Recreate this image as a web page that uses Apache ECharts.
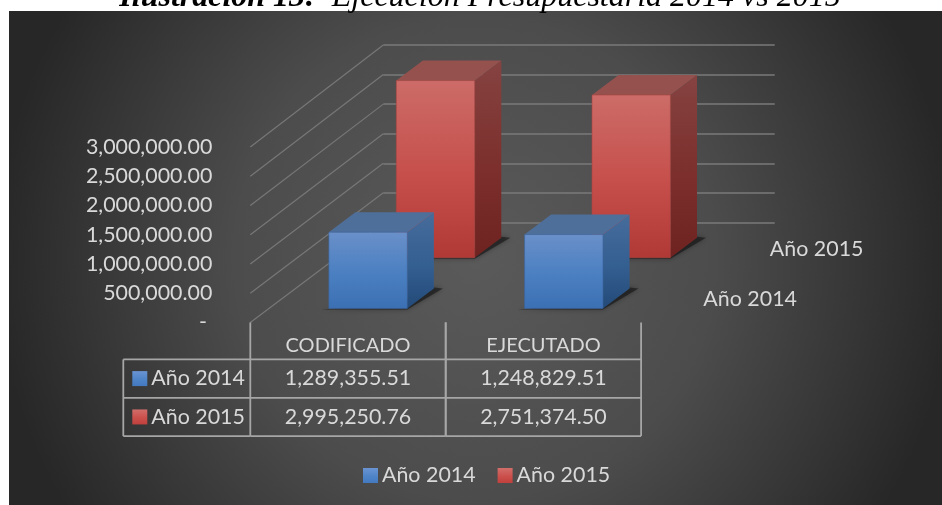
<!DOCTYPE html>
<html><head><meta charset="utf-8">
<style>html,body{margin:0;padding:0;background:#fff}#c{width:942px;height:505px}</style>
<script src="https://cdn.jsdelivr.net/npm/echarts@6/dist/echarts.min.js"></script>
</head><body><div id="c"></div>
<script>
const categories = ['CODIFICADO', 'EJECUTADO'];
const seriesNames = ['Año 2014', 'Año 2015'];
const anio2014 = [1289355.51, 1248829.51];
const anio2015 = [2995250.76, 2751374.50];
const yTicks = [0, 500000, 1000000, 1500000, 2000000, 2500000, 3000000];
const titleBold = 'Ilustración 13:';
const titleRest = '  Ejecución Presupuestaria 2014 vs 2015';

const FONT = 'Lato';
const TXT = '#d9d9d9';
const NUM_SIZE = 21.4;
const DX = 133, DY = 100;        // oblique depth vector of the floor
const BAR_W = 78.4, BAR_D = 0.2; // bar width (px) and depth (fraction of floor)
const money = v => v.toLocaleString('en-US', {minimumFractionDigits: 2, maximumFractionDigits: 2});

const lg = (a, b, c) => ({type:'linear', x:0, y:0, x2:0, y2:1, colorStops:[{offset:0,color:a},{offset:.55,color:b},{offset:1,color:c}]});
const palette = [
  {front: lg('#6a90c9','#4a7fc1','#3c70b4'), side: lg('#466c9b','#345f91','#234a78'), top:'#4f6f9b', edge:'#3a64a0', key: lg('#6a94d2','#4f84c8','#4379c0')},
  {front: lg('#cc6c68','#c64e4a','#b03936'), side: lg('#854341','#7c2f2c','#6e2321'), top:'#95514e', edge:'#a84542', key: lg('#d26e6a','#cb504c','#c0403c')}
];

function barRenderer(s, frontDepth){
  return function(params, api){
    const c = api.coord([api.value(0), api.value(1)]);
    const base = api.coord([api.value(0), 0]);
    const off = d => [-DX * (1 - d), DY * (1 - d)];
    const f = off(frontDepth), b = off(frontDepth + BAR_D);
    const xL = c[0] - BAR_W / 2 + 1.3, xR = xL + BAR_W;
    const P = (x, y, o) => [x + o[0], y + o[1]];
    const p = palette[s];
    const poly = (pts, fill, extra) => ({type:'polygon', shape:{points:pts}, style:Object.assign({fill:fill}, extra||{})});
    return {type:'group', children:[
      poly([P(xL-7,base[1]+1,f), P(xR,base[1]+1,f), P(xR+9,base[1],b), P(xR,base[1]-1,b), P(xR-8,base[1]-6,f)], 'rgba(20,20,20,.6)', {shadowBlur:5, shadowColor:'rgba(0,0,0,.55)'}),
      poly([P(xR,c[1],f), P(xR,c[1],b), P(xR,base[1],b), P(xR,base[1],f)], p.side),
      poly([P(xL,c[1],f), P(xL,c[1],b), P(xR,c[1],b), P(xR,c[1],f)], p.top),
      poly([P(xL,c[1],f), P(xR,c[1],f), P(xR,base[1],f), P(xL,base[1],f)], p.front, {stroke:p.edge, lineWidth:.6})
    ]};
  };
}

function wallRenderer(params, api){
  const v = api.value(0);
  const c = api.coord([0, v]);
  const left = c[0] - api.size([1, 0])[0] / 2;
  return {type:'line', shape:{x1:left, y1:c[1], x2:left - DX, y2:c[1] + DY + 2 * v / yTicks[yTicks.length - 1]},
          style:{stroke:'#777', lineWidth:1.2}};
}

function tableRenderer(params, api){
  const i = api.value(0);
  const c = api.coord([i, 0]);
  const w = api.size([1, 0])[0];
  const floor = c[1];
  const rowA = floor + 37, rowB = floor + 75.4, rowC = floor + 113.7;
  const L = c[0] - w / 2, R = c[0] + w / 2;
  const stroke = '#a6a6a6';
  const line = (x1, y1, x2, y2) => ({type:'line', shape:{x1, y1, x2, y2}, style:{stroke, lineWidth:1.8}});
  const text = (x, y, t, align) => ({type:'text', style:{x, y, text:t, fill:TXT, font:NUM_SIZE + 'px ' + FONT, align:align||'center', verticalAlign:'middle'}});
  const kids = [
    line(L, floor, L, rowC), line(R, floor, R, rowC),
    line(L, rowA, R, rowA), line(L, rowB, R, rowB), line(L, rowC, R, rowC),
    text(c[0], (rowA + rowB) / 2, money(anio2014[i])),
    text(c[0], (rowB + rowC) / 2, money(anio2015[i]))
  ];
  if (i === 0) {
    const T = L - 127;
    kids.push(line(T, rowA, L, rowA), line(T, rowB, L, rowB), line(T, rowC, L, rowC), line(T, rowA, T, rowC));
    [(rowA + rowB) / 2, (rowB + rowC) / 2].forEach((y, s) => {
      kids.push({type:'rect', shape:{x:T + 9, y:y - 7.5, width:15, height:15}, style:{fill:palette[s].key}});
      kids.push(text(T + 28, y, seriesNames[s], 'left'));
    });
  }
  return {type:'group', children:kids};
}

function depthLabelRenderer(params, api){
  const s = api.value(0);
  const d = s === 0 ? 0.25 : 0.75;
  const c = api.coord([categories.length - 1, 0]);
  const R = c[0] + api.size([1, 0])[0] / 2;
  return {type:'text', style:{x:R + DX * d + 29, y:c[1] - DY * d + 2, text:seriesNames[s], fill:TXT, font:NUM_SIZE + 'px ' + FONT, align:'left', verticalAlign:'middle'}};
}

const option = {
  animation:false,
  backgroundColor:'#ffffff',
  title:{
    left:480, textAlign:'center', top:-18, padding:0,
    text:'{b|' + titleBold + '}{i|' + titleRest + '}',
    textStyle:{fontWeight:'normal', rich:{
      b:{fontFamily:'Liberation Serif', fontStyle:'italic', fontWeight:'bold', fontSize:32, color:'#000'},
      i:{fontFamily:'Liberation Serif', fontStyle:'italic', fontWeight:'normal', fontSize:32, color:'#000'}
    }}
  },
  graphic:[{type:'rect', z:-100, silent:true, shape:{x:9, y:11, width:933, height:494},
    style:{fill:{type:'radial', x:475, y:258, r:480, global:true, colorStops:[
      {offset:0,color:'#5a5a5a'},{offset:.5,color:'#4c4c4c'},{offset:.8,color:'#363636'},{offset:1,color:'#272727'}]}}}],
  legend:{
    data:seriesNames, left:363, top:465, padding:0, itemWidth:15, itemHeight:15, itemGap:22, icon:'rect',
    textStyle:{color:TXT, fontFamily:FONT, fontSize:NUM_SIZE, padding:[0,0,0,-1]}
  },
  grid:[
    {left:383.3, width:391.4, top:45, height:177.4},
    {left:250.3, width:390.8, top:147, height:175.4}
  ],
  xAxis:[
    {gridIndex:0, type:'category', data:categories, show:false},
    {gridIndex:1, type:'category', data:categories, axisLine:{show:false}, axisTick:{show:false},
     axisLabel:{color:TXT, fontFamily:FONT, fontSize:20, margin:13}}
  ],
  yAxis:[
    {gridIndex:0, type:'value', min:0, max:3000000, interval:500000, axisLabel:{show:false}, axisLine:{show:false}, axisTick:{show:false},
     splitLine:{lineStyle:{color:'#7a7a7a', width:1.5}}},
    {gridIndex:1, type:'value', min:0, max:3000000, interval:500000, axisLine:{show:false}, axisTick:{show:false}, splitLine:{show:false},
     axisLabel:{color:TXT, fontFamily:FONT, fontSize:NUM_SIZE, margin:38, formatter:v => v === 0 ? '- ' : money(v)}}
  ],
  series:[
    {type:'custom', name:'paredes', silent:true, xAxisIndex:0, yAxisIndex:0, z:1, renderItem:wallRenderer, data:yTicks.map(v => [v]), encode:{y:0}},
    {type:'custom', name:seriesNames[1], silent:true, xAxisIndex:0, yAxisIndex:0, z:2, itemStyle:{color:palette[1].key}, renderItem:barRenderer(1, 0.647), data:anio2015.map((v,i) => [i,v]), encode:{x:0,y:1}},
    {type:'custom', name:seriesNames[0], silent:true, xAxisIndex:0, yAxisIndex:0, z:3, itemStyle:{color:palette[0].key}, renderItem:barRenderer(0, 0.14), data:anio2014.map((v,i) => [i,v]), encode:{x:0,y:1}},
    {type:'custom', name:'tabla', silent:true, xAxisIndex:1, yAxisIndex:1, z:4, renderItem:tableRenderer, data:categories.map((c,i) => [i]), encode:{x:0}},
    {type:'custom', name:'profundidad', silent:true, xAxisIndex:1, yAxisIndex:1, z:4, renderItem:depthLabelRenderer, data:seriesNames.map((s,i) => [i]), encode:{}}
  ]
};
const chart = echarts.init(document.getElementById('c'));
chart.setOption(option);
</script></body></html>
